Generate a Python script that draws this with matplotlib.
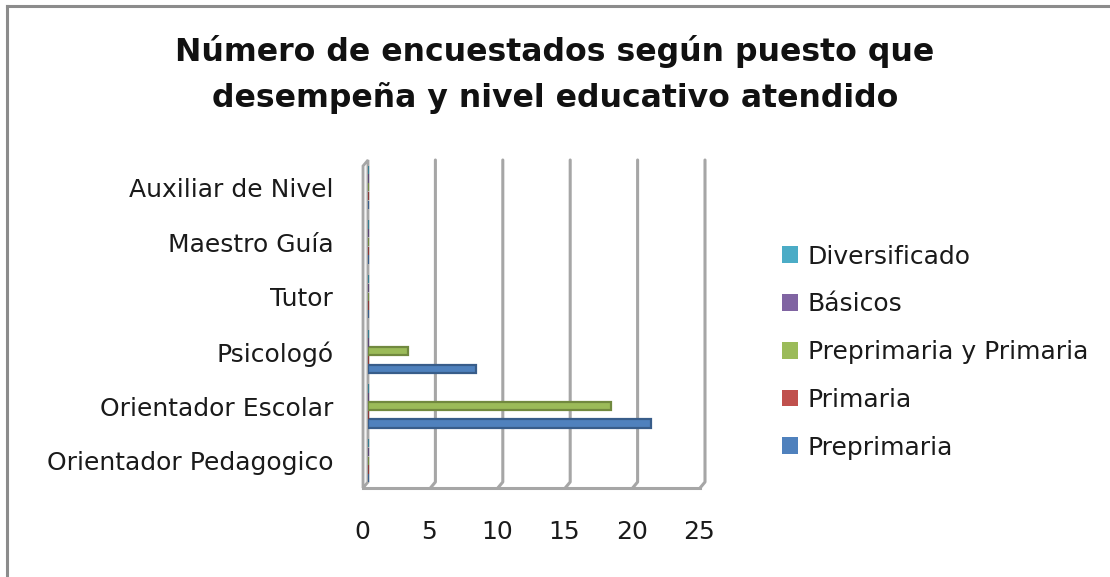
import numpy as np
import matplotlib.pyplot as plt
import matplotlib.transforms as mtransforms
from matplotlib.patches import Patch, Polygon

plt.rcParams['font.family'] = ['DejaVu Sans']

# datos
puestos = ['Orientador Pedagogico', 'Orientador Escolar', 'Psicologó',
           'Tutor', 'Maestro Guía', 'Auxiliar de Nivel']
series = ['Preprimaria', 'Primaria', 'Preprimaria y Primaria', 'Básicos', 'Diversificado']
preprimaria = [0, 21, 8, 0, 0, 0]
primaria = [0, 0, 0, 0, 0, 0]
pre_y_primaria = [0, 18, 3, 0, 0, 0]
basicos = [0, 0, 0, 0, 0, 0]
diversificado = [0, 0, 0, 0, 0, 0]
valores = [preprimaria, primaria, pre_y_primaria, basicos, diversificado]
colores = ['#4F81BD', '#C0504D', '#9BBB59', '#8064A2', '#4BACC6']
bordes = ['#385D8A', '#8C3836', '#71893F', '#5C4776', '#357D91']
xticks = [0, 5, 10, 15, 20, 25]

W, H = 1110, 577
fig = plt.figure(figsize=(W / 100, H / 100), dpi=100)

# marco del gráfico (solo arriba e izquierda)
fig.add_artist(plt.Line2D([7 / W, 7 / W], [0, 1 - 6 / H], color='#8c8c8c', lw=2.2))
fig.add_artist(plt.Line2D([7 / W, 1], [1 - 6 / H, 1 - 6 / H], color='#8c8c8c', lw=2.2))

x0, x1 = 368, 705
ytop, ybot = 160, 488
ax = fig.add_axes([x0 / W, 1 - ybot / H, (x1 - x0) / W, (ybot - ytop) / H])
ax.set_xlim(0, 25)
ax.set_ylim(-0.5, 5.5)
for s in ax.spines.values():
    s.set_visible(False)

px = 25 / (x1 - x0)
py = 6 / (ybot - ytop)
gris = '#a6a6a6'

# paredes en perspectiva
for t in xticks[1:]:
    ax.plot([t, t, t - 5 * px], [5.5, -0.5 + 6 * py, -0.5], color=gris, lw=2.2,
            clip_on=False, solid_capstyle='round', zorder=1)
ax.plot([-5 * px, 25 - 5 * px], [-0.5, -0.5], color=gris, lw=2.2, clip_on=False, zorder=1)
pared = Polygon([[-5 * px, -0.5], [-5 * px, 5.5 - 6 * py], [0, 5.5], [0, -0.5 + 6 * py]],
                closed=True, facecolor='#f2f2f2', edgecolor=gris, lw=2, clip_on=False, zorder=1)
ax.add_patch(pared)

# barras
y = np.arange(len(puestos))
h = 0.16
for i, (vals, c, b) in enumerate(zip(valores, colores, bordes)):
    ax.barh(y + (i - 2) * h, vals, height=h * 0.95, color=c, edgecolor=b,
            linewidth=1.6, zorder=3, label=series[i])

ax.set_xticks(xticks)
ax.set_yticks(y)
ax.set_yticklabels(puestos)
ax.tick_params(length=0, labelsize=18, colors='#1a1a1a')
ax.tick_params(axis='x', pad=23)
ax.tick_params(axis='y', pad=25)
desplaza = mtransforms.ScaledTranslation(-6 / 100, 0, fig.dpi_scale_trans)
for lab in ax.get_xticklabels():
    lab.set_transform(lab.get_transform() + desplaza)

fig.text(0.5, 1 - 52 / H, 'Número de encuestados según puesto que', ha='center', va='center',
         fontsize=22.7, fontweight='bold', color='#111111')
fig.text(0.5, 1 - 98 / H, 'desempeña y nivel educativo atendido', ha='center', va='center',
         fontsize=22.7, fontweight='bold', color='#111111')

handles = [Patch(facecolor=c, edgecolor='none') for c in colores][::-1]
fig.legend(handles, series[::-1], loc='center left', bbox_to_anchor=(759 / W, 1 - 352 / H),
           frameon=False, fontsize=18, handlelength=0.65, handleheight=0.65,
           handletextpad=0.4, labelspacing=0.95, labelcolor='#1a1a1a')

fig.savefig('out.png', dpi=100)
